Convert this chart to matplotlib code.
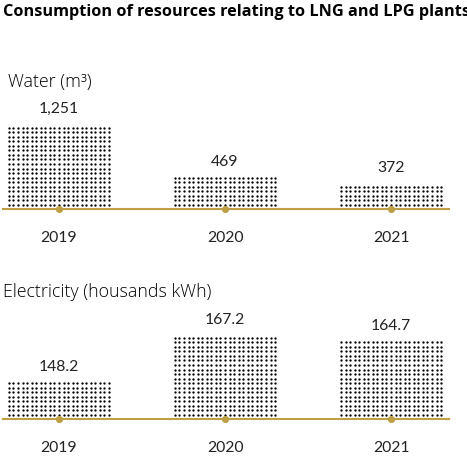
import matplotlib
matplotlib.use("Agg")
import matplotlib.pyplot as plt
import numpy as np

years = ["2019", "2020", "2021"]
water = [1251, 469, 372]
water_labels = ["1,251", "469", "372"]
electricity = [148.2, 167.2, 164.7]
electricity_labels = ["148.2", "167.2", "164.7"]

GOLD = "#BE9F45"
W, H = 467, 467
DPI = 108
NUM_FONT = ['Lato', 'DejaVu Sans']
TXT_FONT = ['Open Sans', 'DejaVu Sans']
plt.rcParams['font.family'] = NUM_FONT

fig = plt.figure(figsize=(W / DPI, H / DPI), dpi=DPI)

def px_axes(left, bottom_from_top, width, height):
    return fig.add_axes([left / W, 1 - bottom_from_top / H, width / W, height / H])

STEP = 4.55  # dot pitch in pixels

def dot_fill(ax, bars):
    inv = ax.transData.inverted()
    xs, ys = [], []
    for p in bars.patches:
        (x0, y0), (x1, y1) = ax.transData.transform(
            [(p.get_x(), p.get_y()), (p.get_x() + p.get_width(), p.get_y() + p.get_height())])
        ncol = int(round((x1 - x0 - 2) / STEP)) + 1
        cols = np.linspace(x0 + 1, x1 - 1, ncol)
        rows = np.arange(y0 + 4, y1 + 0.6, STEP)
        gx, gy = np.meshgrid(cols, rows)
        d = inv.transform(np.column_stack([gx.ravel(), gy.ravel()]))
        xs.extend(d[:, 0]); ys.extend(d[:, 1])
    ax.scatter(xs, ys, s=2.4, marker="o", color="black", linewidths=0, zorder=3)

def panel(ax, values, labels, ymin, ymax):
    x = list(range(len(values)))
    ax.set_xlim(-0.337, 2.349)
    ax.set_ylim(ymin, ymax)
    bars = ax.bar(x, [v - ymin for v in values], bottom=ymin, width=0.615,
                  color="none", edgecolor="none", linewidth=0)
    dot_fill(ax, bars)
    for s in ["top", "right", "left"]:
        ax.spines[s].set_visible(False)
    ax.spines["bottom"].set_color(GOLD)
    ax.spines["bottom"].set_linewidth(1.4)
    ax.set_yticks([])
    ax.set_xticks(x)
    ax.set_xticklabels(years, fontsize=10.5, color="#222222")
    ax.tick_params(axis="x", length=0, pad=14.8)
    ax.scatter(x, [ymin] * len(values), s=14, color=GOLD, zorder=5, clip_on=False)
    for i, (v, lab) in enumerate(zip(values, labels)):
        ax.annotate(lab, (i, v), xytext=(0, 6), textcoords="offset points",
                    ha="center", va="bottom", fontsize=10.5, color="#222222")

ax1 = px_axes(3, 209, 446, 100)
panel(ax1, water, water_labels, 0, 1251 * 100 / 84)

ax2 = px_axes(3, 419, 446, 100)
panel(ax2, electricity, electricity_labels, 133.5, 133.5 + 100 / 2.474)

fig.text(3 / W, 1 - 12 / H, "Consumption of resources relating to LNG and LPG plants",
         fontsize=10.8, fontweight="bold", va="center", ha="left", family=TXT_FONT)
fig.text(8 / W, 1 - 82 / H, "Water (m³)", fontsize=11.8, va="center", ha="left",
         family=TXT_FONT, fontweight="light")
fig.text(3 / W, 1 - 292 / H, "Electricity (housands kWh)", fontsize=11.8, va="center",
         ha="left", family=TXT_FONT, fontweight="light")

fig.savefig("out.png", dpi=DPI)
